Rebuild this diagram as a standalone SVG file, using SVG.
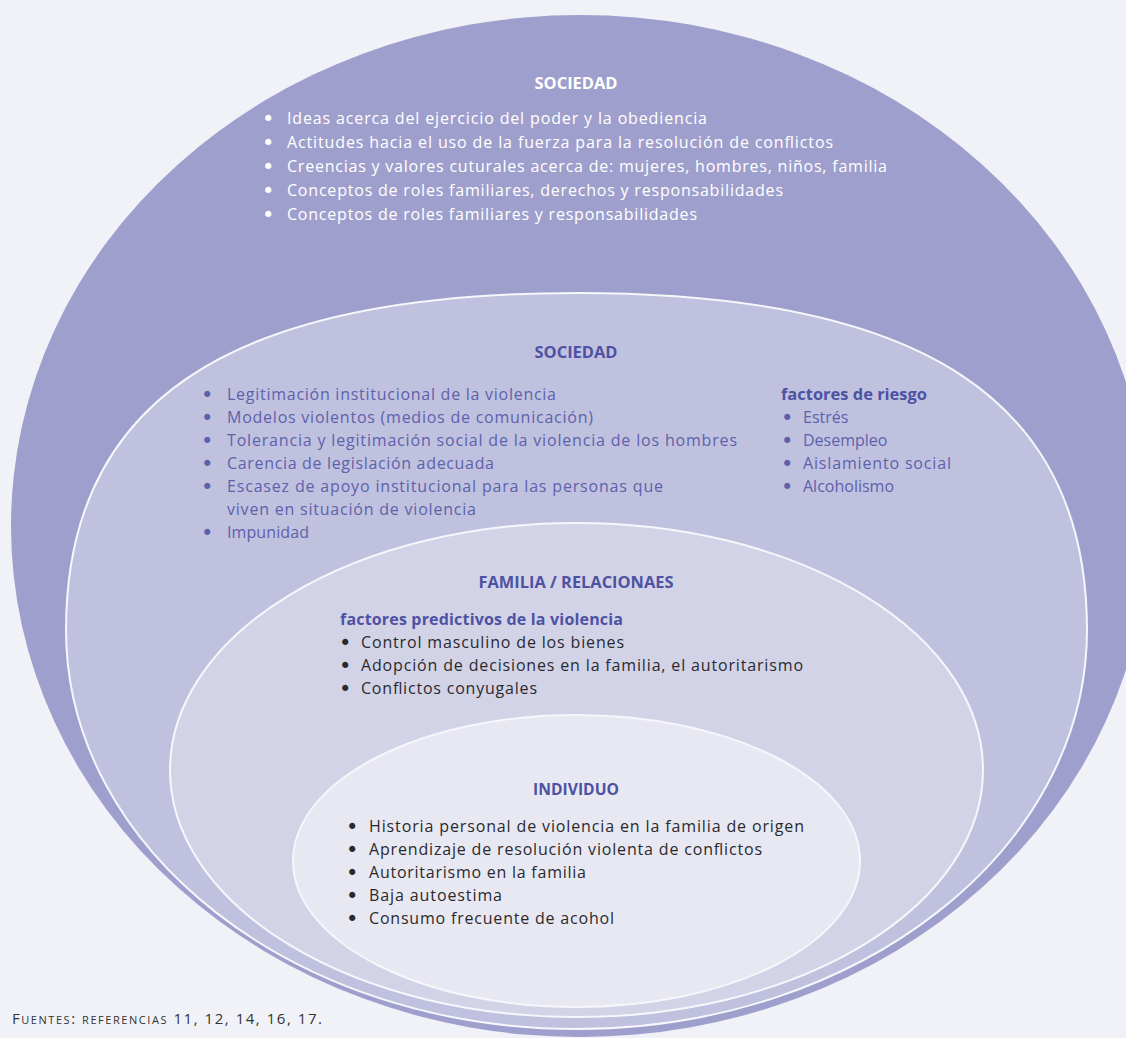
<svg xmlns="http://www.w3.org/2000/svg" width="1126" height="1038" viewBox="0 0 1126 1038">
<style>
.ring{stroke:#f6f6fb;stroke-width:2}
.h{font-family:"Open Sans","DejaVu Sans",sans-serif;font-weight:bold;font-size:16px;text-anchor:middle}
.w{font-family:"Open Sans","DejaVu Sans",sans-serif;font-size:16px;fill:#ffffff}
.b{font-family:"Open Sans","DejaVu Sans",sans-serif;font-size:16px;fill:#5d61ab}
.d{font-family:"Open Sans","DejaVu Sans",sans-serif;font-size:16px;fill:#2a2a2e}
.bu{font-family:"DejaVu Sans",sans-serif;font-size:21px}
.sub{font-family:"Open Sans","DejaVu Sans",sans-serif;font-size:16px;font-weight:bold;fill:#4d52a2}
.foot{font-family:"Open Sans","DejaVu Sans",sans-serif;font-size:15px;fill:#333;font-variant:small-caps}
</style>
<rect width="1126" height="1038" fill="#f1f2f8"/>
<g id="connectors"/>
<g id="sociedad-outer">
<ellipse cx="580" cy="526" rx="569" ry="511" fill="#9f9fcd"/>
<text class="h" x="576" y="89" fill="#ffffff" textLength="83" lengthAdjust="spacingAndGlyphs">SOCIEDAD</text>
<g class="w">
<text class="bu" x="262" y="126">•</text><text x="287" y="124" textLength="420" lengthAdjust="spacing">Ideas acerca del ejercicio del poder y la obediencia</text>
<text class="bu" x="262" y="150">•</text><text x="287" y="148" textLength="546" lengthAdjust="spacing">Actitudes hacia el uso de la fuerza para la resolución de conflictos</text>
<text class="bu" x="262" y="174">•</text><text x="287" y="172" textLength="600" lengthAdjust="spacing">Creencias y valores cuturales acerca de: mujeres, hombres, niños, familia</text>
<text class="bu" x="262" y="198">•</text><text x="287" y="196" textLength="496" lengthAdjust="spacing">Conceptos de roles familiares, derechos y responsabilidades</text>
<text class="bu" x="262" y="222">•</text><text x="287" y="220" textLength="410" lengthAdjust="spacing">Conceptos de roles familiares y responsabilidades</text>
</g>
</g>
<g id="sociedad-inner">
<path class="ring" fill="#c0c1df" d="M66,630 C66,400.8 229.4,293 576.5,293 C923.6,293 1087,400.8 1087,630 C1087,850.4 858.4,1029 576.5,1029 C294.6,1029 66,850.4 66,630 Z"/>
<text class="h" x="576" y="358" fill="#4d52a2" textLength="83" lengthAdjust="spacingAndGlyphs">SOCIEDAD</text>
<g class="b">
<text class="bu" x="201" y="402">•</text><text x="227" y="400" textLength="329" lengthAdjust="spacing">Legitimación institucional de la violencia</text>
<text class="bu" x="201" y="425">•</text><text x="227" y="423" textLength="366" lengthAdjust="spacing">Modelos violentos (medios de comunicación)</text>
<text class="bu" x="201" y="448">•</text><text x="227" y="446" textLength="510" lengthAdjust="spacing">Tolerancia y legitimación social de la violencia de los hombres</text>
<text class="bu" x="201" y="471">•</text><text x="227" y="469" textLength="267" lengthAdjust="spacing">Carencia de legislación adecuada</text>
<text class="bu" x="201" y="494">•</text><text x="227" y="492" textLength="436" lengthAdjust="spacing">Escasez de apoyo institucional para las personas que</text>
<text x="227" y="515" textLength="249" lengthAdjust="spacing">viven en situación de violencia</text>
<text class="bu" x="201" y="540">•</text><text x="227" y="538" textLength="82" lengthAdjust="spacing">Impunidad</text>
</g>
<text class="sub" x="781" y="400" textLength="146" lengthAdjust="spacingAndGlyphs">factores de riesgo</text>
<g class="b">
<text class="bu" x="781" y="425">•</text><text x="803" y="423">Estrés</text>
<text class="bu" x="781" y="448">•</text><text x="803" y="446">Desempleo</text>
<text class="bu" x="781" y="471">•</text><text x="803" y="469" textLength="148" lengthAdjust="spacing">Aislamiento social</text>
<text class="bu" x="781" y="494">•</text><text x="803" y="492">Alcoholismo</text>
</g>
</g>
<g id="familia">
<ellipse class="ring" cx="576.5" cy="770" rx="406.5" ry="247" fill="#d3d3e8"/>
<text class="h" x="576" y="588" fill="#4d52a2" textLength="195" lengthAdjust="spacingAndGlyphs">FAMILIA / RELACIONAES</text>
<text class="sub" x="340" y="625" textLength="283" lengthAdjust="spacing">factores predictivos de la violencia</text>
<g class="d">
<text class="bu" x="339" y="650">•</text><text x="361" y="648" textLength="263" lengthAdjust="spacing">Control masculino de los bienes</text>
<text class="bu" x="339" y="673">•</text><text x="361" y="671" textLength="442" lengthAdjust="spacing">Adopción de decisiones en la familia, el autoritarismo</text>
<text class="bu" x="339" y="696">•</text><text x="361" y="694" textLength="176" lengthAdjust="spacing">Conflictos conyugales</text>
</g>
</g>
<g id="individuo">
<ellipse class="ring" cx="576.5" cy="861" rx="283.5" ry="146" fill="#e8e8f2"/>
<text class="h" x="576" y="795" fill="#4d52a2" textLength="86" lengthAdjust="spacingAndGlyphs">INDIVIDUO</text>
<g class="d">
<text class="bu" x="346" y="834">•</text><text x="369" y="832" textLength="435" lengthAdjust="spacing">Historia personal de violencia en la familia de origen</text>
<text class="bu" x="346" y="857">•</text><text x="369" y="855" textLength="393" lengthAdjust="spacing">Aprendizaje de resolución violenta de conflictos</text>
<text class="bu" x="346" y="880">•</text><text x="369" y="878" textLength="217" lengthAdjust="spacing">Autoritarismo en la familia</text>
<text class="bu" x="346" y="903">•</text><text x="369" y="901" textLength="133" lengthAdjust="spacing">Baja autoestima</text>
<text class="bu" x="346" y="926">•</text><text x="369" y="924" textLength="245" lengthAdjust="spacing">Consumo frecuente de acohol</text>
</g>
</g>
<text class="foot" x="12" y="1024" textLength="310" lengthAdjust="spacing">Fuentes: referencias 11, 12, 14, 16, 17.</text>
</svg>
